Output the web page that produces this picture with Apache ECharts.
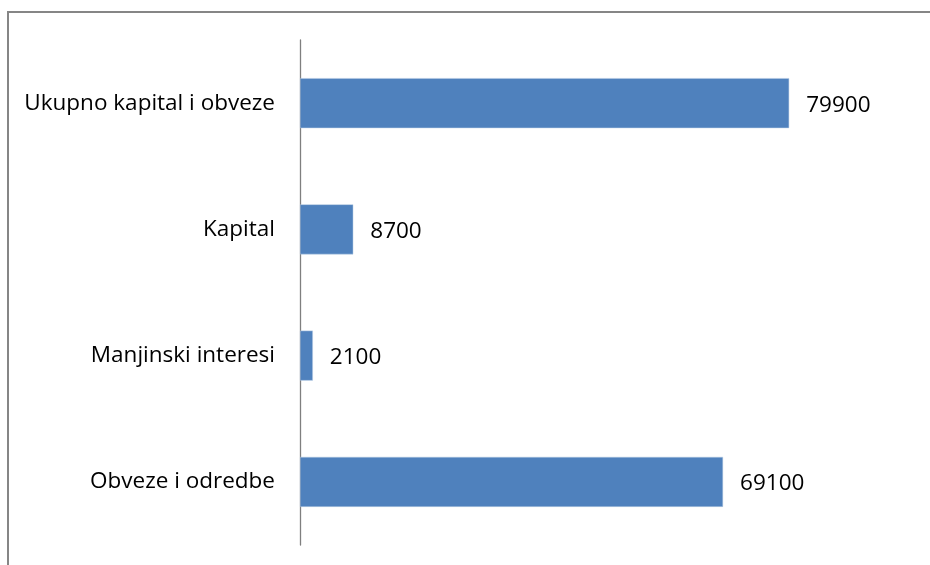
<!DOCTYPE html>
<html>
<head>
<meta charset="utf-8">
<script src="https://cdn.jsdelivr.net/npm/echarts@6/dist/echarts.min.js"></script>
<style>
html,body{margin:0;padding:0;background:#fff;overflow:hidden;}
#frame{position:absolute;left:7px;top:11px;width:1000px;height:700px;border-left:2px solid #868686;border-top:2px solid #868686;}
#chart{position:absolute;left:0;top:0;width:930px;height:565px;}
</style>
</head>
<body>
<div id="frame"></div>
<div id="chart"></div>
<script>
const categories = ['Obveze i odredbe', 'Manjinski interesi', 'Kapital', 'Ukupno kapital i obveze'];
const values = [69100, 2100, 8700, 79900];

const chart = echarts.init(document.getElementById('chart'), null, {renderer: 'canvas'});
chart.setOption({
  animation: false,
  backgroundColor: 'transparent',
  grid: {left: 300, right: 79, top: 40, bottom: 20, containLabel: false},
  xAxis: {
    type: 'value', min: 0, max: 90000,
    axisLine: {show: false}, axisTick: {show: false},
    axisLabel: {show: false}, splitLine: {show: false}
  },
  yAxis: {
    type: 'category', data: categories,
    axisLine: {show: true, lineStyle: {color: '#7f7f7f', width: 1.3}},
    axisTick: {show: false},
    axisLabel: {color: '#000', fontSize: 22.5, fontFamily: 'Open Sans', margin: 25, padding: [4, 0, 0, 0]}
  },
  series: [{
    type: 'bar', data: values, barWidth: 50,
    itemStyle: {color: '#4F81BD', borderColor: '#B9CDE5', borderWidth: 0.5},
    label: {show: true, position: 'right', distance: 17, offset: [0, 2], color: '#000', fontSize: 22.5, fontFamily: 'Open Sans'}
  }]
});
</script>
</body>
</html>
